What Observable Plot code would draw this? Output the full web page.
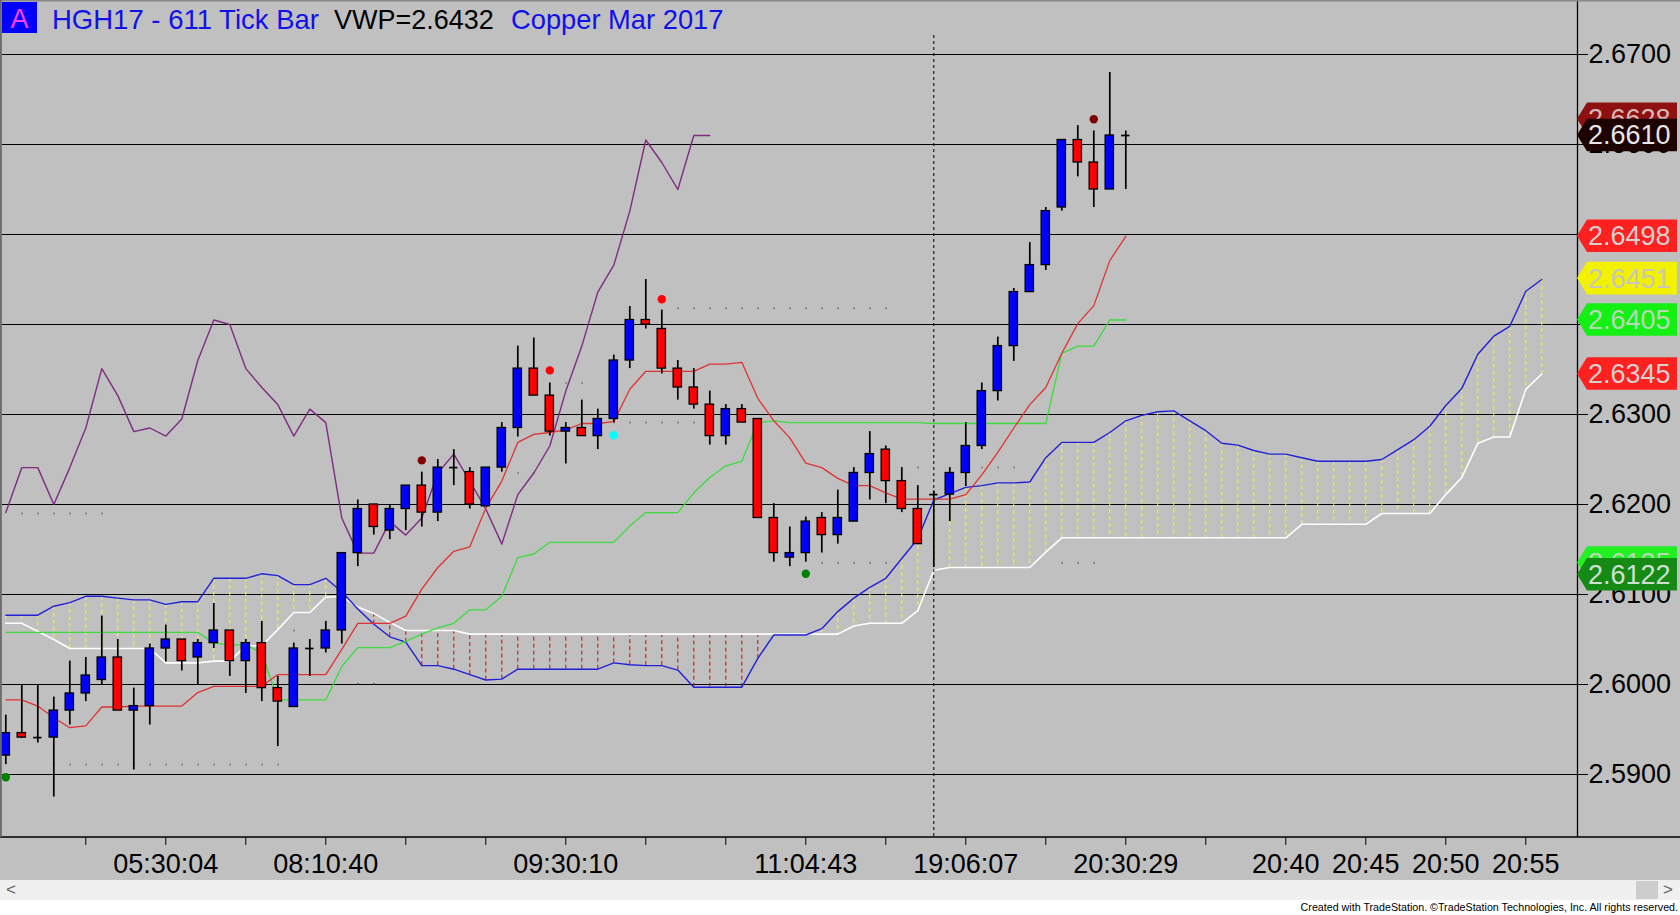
<!DOCTYPE html>
<html><head><meta charset="utf-8">
<script src="https://cdn.jsdelivr.net/npm/d3@7"></script>
<script src="https://cdn.jsdelivr.net/npm/@observablehq/plot@0.6"></script>
<style>
html,body{margin:0;padding:0;background:#C0C0C0;}
#wrap{position:relative;width:1680px;height:915px;overflow:hidden;font-family:'Liberation Sans',Arial,sans-serif;background:#C0C0C0;}
#chart svg{display:block;}
#scroll{position:absolute;left:0;top:880px;width:1680px;height:20px;background:#F0F0F0;}
#scroll .l{position:absolute;left:6px;top:0;line-height:20px;font-size:17px;color:#606060;}
#scroll .r{position:absolute;left:1663px;top:0;line-height:20px;font-size:17px;color:#606060;}
#scroll .thumb{position:absolute;left:1636px;top:1px;width:22px;height:18px;background:#CDCDCD;}
#footer{position:absolute;left:0;top:900px;width:1680px;height:15px;background:#FFFFFF;}
#footer span{position:absolute;right:2px;top:1px;font-size:10.7px;line-height:13px;color:#000;white-space:nowrap;}
</style></head><body>
<div id="wrap">
  <div id="chart"></div>
  <div id="scroll"><span class="l">&lt;</span><div class="thumb"></div><span class="r">&gt;</span></div>
  <div id="footer"><span>Created with TradeStation. ©TradeStation Technologies, Inc. All rights reserved.</span></div>
</div>
<script>
// ---- data (bar index 0..70) ----
const open = [2.5921,2.5946,2.5941,2.5941,2.5971,2.5990,2.6005,2.6030,2.5971,2.5976,
2.6040,2.6050,2.6030,2.6046,2.6060,2.6026,2.6046,2.5996,2.5975,2.6040,
2.6040,2.6060,2.6146,2.6200,2.6171,2.6195,2.6221,2.6191,2.6241,2.6236,
2.6198,2.6241,2.6285,2.6351,2.6321,2.6281,2.6285,2.6276,2.6295,2.6360,
2.6405,2.6395,2.6351,2.6330,2.6311,2.6276,2.6306,2.6295,2.6185,2.6141,
2.6146,2.6185,2.6166,2.6181,2.6235,2.6261,2.6226,2.6195,2.6211,2.6211,
2.6235,2.6265,2.6326,2.6376,2.6436,2.6466,2.6530,2.6605,2.6580,2.6550,
2.6610];
const high = [2.5966,2.6000,2.6000,2.5986,2.6026,2.6030,2.6076,2.6050,2.5996,2.6045,
2.6066,2.6050,2.6050,2.6090,2.6060,2.6050,2.6070,2.6009,2.6046,2.6050,
2.6070,2.6146,2.6205,2.6200,2.6200,2.6221,2.6236,2.6250,2.6261,2.6241,
2.6241,2.6291,2.6376,2.6385,2.6335,2.6291,2.6316,2.6306,2.6366,2.6420,
2.6450,2.6416,2.6360,2.6351,2.6326,2.6311,2.6311,2.6295,2.6201,2.6175,
2.6186,2.6191,2.6216,2.6241,2.6281,2.6265,2.6241,2.6221,2.6215,2.6241,
2.6291,2.6335,2.6386,2.6440,2.6491,2.6530,2.6605,2.6621,2.6615,2.6680,
2.6615];
const low = [2.5911,2.5940,2.5935,2.5875,2.5955,2.5981,2.6000,2.5971,2.5905,2.5955,
2.6025,2.6015,2.6000,2.6040,2.6009,2.5990,2.5981,2.5931,2.5975,2.6009,
2.6035,2.6045,2.6131,2.6166,2.6161,2.6171,2.6175,2.6181,2.6221,2.6195,
2.6198,2.6236,2.6275,2.6321,2.6276,2.6245,2.6276,2.6261,2.6291,2.6351,
2.6395,2.6345,2.6316,2.6306,2.6266,2.6266,2.6291,2.6185,2.6136,2.6131,
2.6136,2.6146,2.6156,2.6181,2.6205,2.6201,2.6191,2.6156,2.6130,2.6181,
2.6220,2.6261,2.6315,2.6359,2.6436,2.6460,2.6526,2.6564,2.6530,2.6550,
2.6550];
const close = [2.5946,2.5941,2.5941,2.5971,2.5990,2.6010,2.6030,2.5971,2.5976,2.6040,
2.6050,2.6026,2.6046,2.6060,2.6026,2.6046,2.5996,2.5981,2.6040,2.6040,
2.6060,2.6146,2.6195,2.6175,2.6195,2.6221,2.6191,2.6241,2.6241,2.6200,
2.6241,2.6285,2.6351,2.6321,2.6281,2.6285,2.6276,2.6295,2.6360,2.6405,
2.6400,2.6351,2.6330,2.6311,2.6276,2.6306,2.6291,2.6185,2.6146,2.6146,
2.6181,2.6166,2.6185,2.6235,2.6256,2.6226,2.6195,2.6156,2.6211,2.6235,
2.6265,2.6326,2.6376,2.6436,2.6466,2.6526,2.6605,2.6580,2.6550,2.6610,
2.6610];

// Ichimoku lines
const tenkan = [2.5983,2.5983,2.5976,2.5963,2.5952,2.5954,2.5975,2.5975,2.5976,2.5976,
2.5976,2.5976,2.5991,2.5998,2.5998,2.5998,2.5998,2.6011,2.6011,2.6011,
2.6011,2.6039,2.6068,2.6068,2.6068,2.6076,2.6106,2.6130,2.6148,2.6153,
2.6196,2.6226,2.6269,2.6278,2.6280,2.6283,2.6290,2.6290,2.6292,2.6328,
2.6348,2.6348,2.6348,2.6348,2.6356,2.6356,2.6358,2.6318,2.6293,2.6274,
2.6246,2.6241,2.6229,2.6221,2.6221,2.6213,2.6206,2.6206,2.6206,2.6206,
2.6211,2.6233,2.6258,2.6285,2.6311,2.6330,2.6368,2.6401,2.6421,2.6471,
2.6498];
const kijun = [2.6058,2.6058,2.6058,2.6058,2.6058,2.6058,2.6058,2.6058,2.6058,2.6058,
2.6058,2.6058,2.6058,2.6046,2.6044,2.6044,2.6035,2.5983,2.5983,2.5983,
2.5983,2.6020,2.6041,2.6041,2.6041,2.6048,2.6056,2.6063,2.6068,2.6083,
2.6083,2.6098,2.6141,2.6145,2.6158,2.6158,2.6158,2.6158,2.6158,2.6176,
2.6191,2.6191,2.6191,2.6213,2.6230,2.6243,2.6248,2.6291,2.6293,2.6291,
2.6291,2.6291,2.6291,2.6291,2.6291,2.6291,2.6291,2.6291,2.6290,2.6290,
2.6290,2.6290,2.6290,2.6290,2.6290,2.6290,2.6368,2.6376,2.6376,2.6405,
2.6405];
const spanA = [2.6077,2.6077,2.6077,2.6087,2.6091,2.6098,2.6098,2.6096,2.6094,2.6094,
2.6089,2.6092,2.6092,2.6118,2.6118,2.6118,2.6123,2.6121,2.6111,2.6111,
2.6118,2.6103,2.6084,2.6067,2.6053,2.6047,2.6021,2.6021,2.6017,2.6011,
2.6005,2.6006,2.6017,2.6017,2.6017,2.6017,2.6017,2.6017,2.6024,2.6022,
2.6021,2.6021,2.6016,2.5997,2.5997,2.5997,2.5997,2.6029,2.6055,2.6055,
2.6055,2.6062,2.6081,2.6096,2.6108,2.6118,2.6140,2.6162,2.6205,2.6212,
2.6219,2.6221,2.6224,2.6224,2.6225,2.6252,2.6269,2.6269,2.6269,2.6280,
2.6293,2.6299,2.6303,2.6304,2.6293,2.6282,2.6268,2.6266,2.6260,2.6256,
2.6256,2.6252,2.6248,2.6248,2.6248,2.6248,2.6250,2.6261,2.6272,2.6287,
2.6310,2.6329,2.6367,2.6387,2.6398,2.6437,2.6450];
const spanB = [2.6068,2.6068,2.6059,2.6050,2.6040,2.6040,2.6040,2.6040,2.6040,2.6040,
2.6024,2.6024,2.6024,2.6026,2.6026,2.6043,2.6043,2.6061,2.6080,2.6080,
2.6097,2.6098,2.6086,2.6079,2.6069,2.6060,2.6060,2.6060,2.6060,2.6056,
2.6056,2.6056,2.6056,2.6056,2.6056,2.6056,2.6056,2.6056,2.6056,2.6056,
2.6056,2.6056,2.6056,2.6056,2.6056,2.6056,2.6056,2.6056,2.6056,2.6056,
2.6056,2.6056,2.6056,2.6065,2.6068,2.6068,2.6068,2.6082,2.6127,2.6130,
2.6130,2.6130,2.6130,2.6130,2.6130,2.6147,2.6163,2.6163,2.6163,2.6163,
2.6163,2.6163,2.6163,2.6163,2.6163,2.6163,2.6163,2.6163,2.6163,2.6163,
2.6163,2.6178,2.6178,2.6178,2.6178,2.6178,2.6190,2.6190,2.6190,2.6190,
2.6211,2.6230,2.6268,2.6275,2.6275,2.6328,2.6345];
const chikou = [2.6191,2.6241,2.6241,2.6200,2.6241,2.6285,2.6351,2.6321,2.6281,2.6285,
2.6276,2.6295,2.6360,2.6405,2.6400,2.6351,2.6330,2.6311,2.6276,2.6306,
2.6291,2.6185,2.6146,2.6146,2.6181,2.6166,2.6185,2.6235,2.6256,2.6226,
2.6195,2.6156,2.6211,2.6235,2.6265,2.6326,2.6376,2.6436,2.6466,2.6526,
2.6605,2.6580,2.6550,2.6610,2.6610];

// signal dots
const dotBar   = [0, 26, 34, 38, 41, 50, 68];
const dotValue = [2.5897, 2.6249, 2.6349, 2.6277, 2.6428, 2.6123, 2.6628];
const dotKind  = ["low", "high", "peak", "cross", "peak", "low", "high"];

// faint dotted levels
const levelFrom  = [1, 3, 18, 22, 32, 35, 38, 42, 51, 57, 61, 66];
const levelTo    = [7, 18, 19, 24, 34, 37, 44, 56, 56, 58, 64, 69];
const levelValue = [2.6190, 2.5911, 2.6060, 2.6001, 2.6235, 2.6335, 2.6291, 2.6418, 2.6135, 2.6241, 2.6241, 2.6135];

// axes
const yTicks = [2.59, 2.60, 2.61, 2.62, 2.63, 2.64, 2.65, 2.66, 2.67];
const xTicks = [5,10,15,20,25,30,35,40,45,50,55,60,65,70,75,80,85,90,95];
const xTickLabels = ["","05:30:04","","08:10:40","","","09:30:10","","","11:04:43","","19:06:07","","20:30:29","","20:40","20:45","20:50","20:55"];
const sessionBreak = 58;

// right-side price flags
const flagValue = [2.6628, 2.6610, 2.6498, 2.6451, 2.6405, 2.6345, 2.6135, 2.6122];
const flagKind  = ["highDot", "last", "tenkan", "spanA", "kijun", "spanB", "level", "lowDot"];

// ---- styles ----
const dotColors = {low: "#008000", high: "#800000", peak: "#FF0000", cross: "#00FFFF"};
const flagStyle = {
  highDot: ["#8E1010", "#D8B8B8"], last: ["#1E0202", "#E6E6E6"], tenkan: ["#FF2020", "#D8D0D0"],
  spanA: ["#F2F200", "#C8C8B8"], kijun: ["#14F014", "#B8D8B8"], spanB: ["#FF2020", "#D8D0D0"],
  level: ["#22F022", "#B8D8B8"], lowDot: ["#158A15", "#D0E0D0"]
};

const bars = open.map((o, i) => ({i, o, h: high[i], l: low[i], c: close[i]}));
const bodies = bars.filter(d => d.o !== d.c);
const dojis = bars.filter(d => d.o === d.c);
const cloud = spanA.map((a, i) => ({i, a, b: spanB[i]}));
const tk = tenkan.map((v, i) => ({i, v}));
const kj = kijun.map((v, i) => ({i, v}));
const ch = chikou.map((v, i) => ({i, v}));
const dots = dotBar.map((b, k) => ({i: b, v: dotValue[k], kind: dotKind[k]}));
const levels = levelFrom.map((f, k) => ({f, t: levelTo[k], v: levelValue[k]}));
const tickLabel = new Map(xTicks.map((t, k) => [t, xTickLabels[k]]));

const W = 1680, H = 880, mL = 2, mR = 103, mB = 43;
const barPx = 16, bar0Px = 5.3;
const x0 = -(bar0Px - mL) / barPx;
const xDomain = [x0, x0 + (W - mL - mR) / barPx];

const plot = Plot.plot({
  width: W, height: H,
  marginLeft: mL, marginRight: mR, marginTop: 0, marginBottom: mB,
  style: {background: "#C0C0C0", fontFamily: "'Liberation Sans', Arial, sans-serif", fontSize: "27px", color: "black", overflow: "visible"},
  x: {domain: xDomain, ticks: xTicks, tickFormat: d => tickLabel.get(d) ?? "", tickSize: 8, tickPadding: 8, label: null},
  y: {domain: [2.583, 2.676], axis: "right", ticks: yTicks, tickFormat: d => d.toFixed(4), tickSize: 10, tickPadding: 1, label: null},
  marks: [
    Plot.ruleY(yTicks, {stroke: "#000", strokeWidth: 1.2}),
    Plot.ruleY(levels, {x1: "f", x2: "t", y: "v", stroke: "#666", strokeWidth: 1.5, strokeDasharray: "1.5,14.5"}),
    Plot.ruleX(cloud.filter(d => d.a >= d.b), {x: "i", y1: "a", y2: "b", stroke: "#FFFF00", strokeWidth: 1, strokeDasharray: "4,3"}),
    Plot.ruleX(cloud.filter(d => d.a < d.b), {x: "i", y1: "a", y2: "b", stroke: "#E00000", strokeWidth: 1, strokeDasharray: "4,3"}),
    Plot.line(cloud, {x: "i", y: "b", stroke: "#FFFFFF", strokeWidth: 1.6}),
    Plot.line(cloud, {x: "i", y: "a", stroke: "#2020D8", strokeWidth: 1.4}),
    Plot.line(ch, {x: "i", y: "v", stroke: "#7E2C80", strokeWidth: 1.4}),
    Plot.line(kj, {x: "i", y: "v", stroke: "#3CDC3C", strokeWidth: 1.3}),
    Plot.line(tk, {x: "i", y: "v", stroke: "#E03232", strokeWidth: 1.3}),
    Plot.ruleX([sessionBreak], {stroke: "#000", strokeWidth: 1, strokeDasharray: "3,3", insetTop: 35}),
    Plot.ruleX(bars, {x: "i", y1: "l", y2: "h", stroke: "#000", strokeWidth: 1.7}),
    Plot.rect(bodies, {x1: d => d.i - 0.26, x2: d => d.i + 0.26, y1: d => Math.min(d.o, d.c), y2: d => Math.max(d.o, d.c),
      fill: d => d.c > d.o ? "#0000FF" : "#FF0000", stroke: "#000", strokeWidth: 1.3}),
    Plot.ruleY(dojis, {x1: d => d.i - 0.26, x2: d => d.i + 0.26, y: "o", stroke: "#000", strokeWidth: 1.7}),
    Plot.dot(dots, {x: "i", y: "v", r: 4.2, fill: d => dotColors[d.kind], stroke: null}),
    Plot.ruleX([xDomain[1]], {stroke: "#000", strokeWidth: 1.3})
  ]
});
document.getElementById("chart").appendChild(plot);

// ---- overlays using the plot's own y scale ----
const svg = d3.select(plot);
const ys = plot.scale("y");
const yf = ys.apply ? (v => ys.apply(v)) : d3.scaleLinear(ys.domain, ys.range);

const yBottom = yf(2.583);
svg.append("line").attr("x1", 0).attr("x2", W).attr("y1", yBottom).attr("y2", yBottom).attr("stroke", "#000").attr("stroke-width", 1.3);
svg.append("rect").attr("x", 0).attr("y", 0).attr("width", W).attr("height", 1.5).attr("fill", "#8A8A8A");
svg.append("rect").attr("x", 0).attr("y", 0).attr("width", 1.8).attr("height", yBottom).attr("fill", "#6A6A6A");

const axisX = W - mR;
const fg = svg.append("g").attr("font-family", "'Liberation Sans', Arial, sans-serif").attr("font-size", 27).attr("text-anchor", "start");
flagValue.forEach((v, k) => {
  const yy = yf(v), [fill, txt] = flagStyle[flagKind[k]], hh = 16.3;
  fg.append("polygon")
    .attr("points", `${axisX},${yy} ${axisX + 10},${yy - hh} ${W - 3},${yy - hh} ${W - 3},${yy + hh} ${axisX + 10},${yy + hh}`)
    .attr("fill", fill);
  fg.append("text").attr("x", axisX + 11).attr("y", yy).attr("dy", "0.35em").attr("text-anchor", "start").attr("fill", txt).text(v.toFixed(4));
});

// title row
const tg = svg.append("g").attr("font-family", "'Liberation Sans', Arial, sans-serif").attr("font-size", 27).attr("text-anchor", "start");
tg.append("rect").attr("x", 2).attr("y", 2).attr("width", 35).attr("height", 31).attr("fill", "#0000FF");
tg.append("text").attr("x", 19.5).attr("y", 28).attr("text-anchor", "middle").attr("fill", "#FF40FF").text("A");
tg.append("text").attr("x", 52).attr("y", 28.5).attr("font-size", 27.5).attr("text-anchor", "start").attr("fill", "#1010E8").text("HGH17 - 611 Tick Bar");
tg.append("text").attr("x", 334).attr("y", 28.5).attr("text-anchor", "start").attr("fill", "#000").text("VWP=2.6432");
tg.append("text").attr("x", 511).attr("y", 28.5).attr("font-size", 27.3).attr("text-anchor", "start").attr("fill", "#1010E8").text("Copper Mar 2017");
</script>
</body></html>
